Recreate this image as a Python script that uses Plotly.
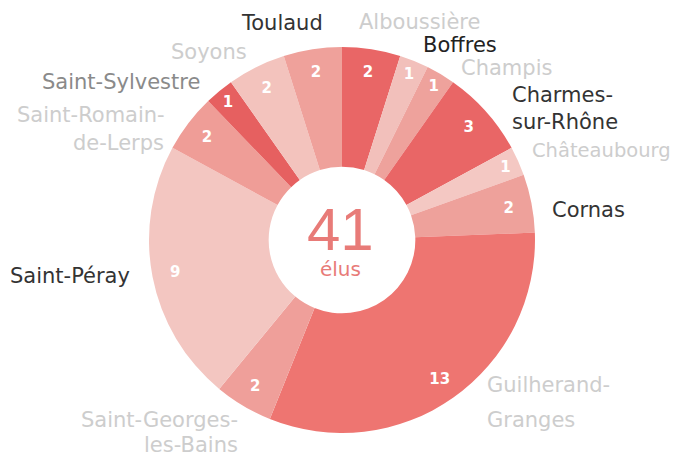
import plotly.graph_objects as go

communes = ["Alboussière", "Boffres", "Champis", "Charmes-sur-Rhône", "Châteaubourg",
            "Cornas", "Guilherand-Granges", "Saint-Georges-les-Bains", "Saint-Péray",
            "Saint-Romain-de-Lerps", "Saint-Sylvestre", "Soyons", "Toulaud"]
elus = [2, 1, 1, 3, 1, 2, 13, 2, 9, 2, 1, 2, 2]
total_label = "41"
total_unit = "élus"
colors = ["#e96666", "#f2c0bb", "#eea29c", "#e96666", "#f4c8c3", "#eea19b", "#ee7571",
          "#ef9f9a", "#f3c6c1", "#ef9d97", "#e66060", "#f3c3bd", "#efa19b"]

DARK, LIGHT, MID = "#333333", "#cdcdcd", "#8a8a8a"
# label lines: text, x(px), y(px), anchor, color, size  (screen pixel positions)
label_lines = [
    ("Toulaud", 282, 23, "center", DARK, 21),
    ("Alboussière", 419, 22, "center", LIGHT, 21),
    ("Boffres", 460, 45, "center", "#222222", 21),
    ("Champis", 506, 68, "center", LIGHT, 21),
    ("Charmes-", 510, 95, "left", DARK, 21),
    ("sur-Rhône", 510, 122, "left", DARK, 21),
    ("Châteaubourg", 530, 150, "left", LIGHT, 19.5),
    ("Cornas", 550, 210, "left", DARK, 21),
    ("Guilherand-", 485, 385, "left", LIGHT, 21),
    ("Granges", 485, 420, "left", LIGHT, 21),
    ("Saint-Georges-", 240, 420, "right", LIGHT, 21),
    ("les-Bains", 240, 445, "right", LIGHT, 21),
    ("Saint-Péray", 8, 276, "left", DARK, 21),
    ("Saint-Romain-", 167, 115, "right", LIGHT, 21),
    ("de-Lerps", 166, 143, "right", LIGHT, 21),
    ("Saint-Sylvestre", 202, 82, "right", MID, 21),
    ("Soyons", 209, 52, "center", LIGHT, 21),
]

OFF = 8  # default page body margin
W, H = 681 - OFF, 459 - OFF
cx, cy, r = 342 - OFF, 240 - OFF, 193

def px(x):
    return (x - OFF) / W

def py(y):
    return 1 - (y - OFF) / H

dom = dict(x=[(cx - r) / W, (cx + r) / W], y=[1 - (cy + r) / H, 1 - (cy - r) / H])

fig = go.Figure()
fig.add_trace(go.Pie(
    labels=communes, values=elus, sort=False, direction="clockwise", rotation=0,
    hole=0.38, marker=dict(colors=colors, line=dict(width=0)),
    textinfo="none", domain=dom, showlegend=False, hoverinfo="label+value",
))
# transparent ring carrying the value labels near the outer edge
fig.add_trace(go.Pie(
    labels=communes, values=elus, sort=False, direction="clockwise", rotation=0,
    hole=0.76, marker=dict(colors=["rgba(0,0,0,0)"] * len(elus), line=dict(width=0)),
    textinfo="value", textposition="inside", insidetextorientation="horizontal",
    textfont=dict(color="white", size=15, family="DejaVu Sans", weight="bold"),
    domain=dom, showlegend=False, hoverinfo="skip",
))

anns = []
for text, x, y, anchor, col, size in label_lines:
    anns.append(dict(text=text, x=px(x), y=py(y), xref="paper", yref="paper",
                     xanchor=anchor, yanchor="middle", showarrow=False,
                     font=dict(size=size, color=col, family="DejaVu Sans")))
center_text = ("<span style='font-size:60px;font-family:\"Liberation Sans Narrow\", sans-serif'>"
               + total_label + "</span><br>" + total_unit)
anns.append(dict(text=center_text, x=px(340), y=py(238), xref="paper", yref="paper",
                 xanchor="center", yanchor="middle", showarrow=False, align="center",
                 font=dict(size=20, color="#e87b78", family="DejaVu Sans")))

fig.update_layout(width=W, height=H, margin=dict(l=0, r=0, t=0, b=0),
                  paper_bgcolor="white", plot_bgcolor="white", annotations=anns,
                  uniformtext=dict(minsize=15, mode="show"))
fig.write_html("out.html")
